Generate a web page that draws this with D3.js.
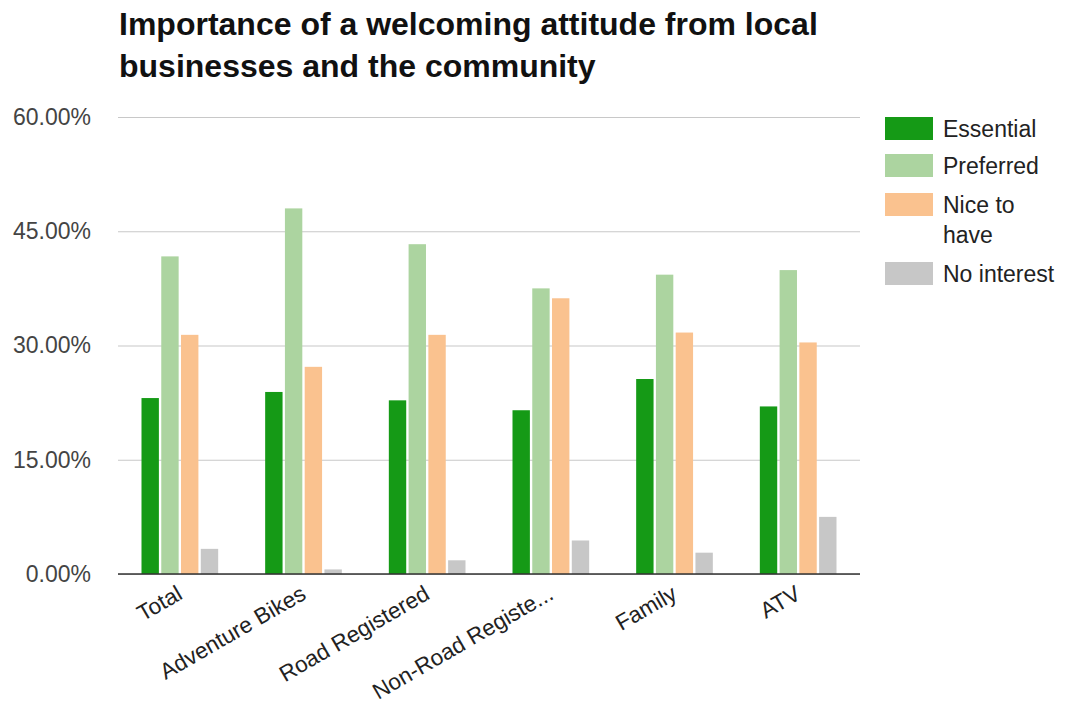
<!DOCTYPE html>
<html>
<head>
<meta charset="utf-8">
<script src="https://cdn.jsdelivr.net/npm/d3@7"></script>
<style>
  html, body { margin: 0; padding: 0; background: #fff; }
  svg { display: block; font-family: "Liberation Sans", Arial, Helvetica, sans-serif; }
</style>
</head>
<body>
<svg id="chart" width="1069" height="708"></svg>
<script>
const categories = ["Total", "Adventure Bikes", "Road Registered", "Non-Road Registe...", "Family", "ATV"];
const seriesNames = ["Essential", "Preferred", "Nice to have", "No interest"];
const essential  = [23.1, 23.9, 22.8, 21.5, 25.6, 22.0];
const preferred  = [41.7, 48.0, 43.3, 37.5, 39.3, 39.9];
const niceToHave = [31.4, 27.2, 31.4, 36.2, 31.7, 30.4];
const noInterest = [3.3, 0.6, 1.8, 4.4, 2.8, 7.5];
const yTicks = [0, 15, 30, 45, 60];
const titleLines = ["Importance of a welcoming attitude from local", "businesses and the community"];
const colors = ["#159a16", "#acd4a0", "#fac28f", "#c7c7c7"];

const seriesValues = [essential, preferred, niceToHave, noInterest];
const data = categories.map((c, i) => ({
  cat: c,
  vals: seriesNames.map((s, j) => ({ key: s, value: seriesValues[j][i], color: colors[j] }))
}));

const svg = d3.select("#chart");
const plotLeft = 118, plotRight = 860, plotTop = 117, plotBottom = 574;

// Title
svg.append("g").selectAll("text").data(titleLines).join("text")
  .attr("x", 119).attr("y", (d, i) => 35 + i * 42)
  .attr("font-size", 32).attr("font-weight", "bold").attr("fill", "#111")
  .text(d => d);

const y = d3.scaleLinear().domain([0, 60]).range([plotBottom, plotTop]);
const x0 = d3.scaleBand().domain(categories).range([plotLeft, plotRight]).paddingInner(0.38).paddingOuter(0.19);
const x1 = d3.scaleBand().domain(seriesNames).range([0, x0.bandwidth()]).paddingInner(0.12);

// Grid
const yAxis = d3.axisLeft(y).tickValues(yTicks).tickSize(-(plotRight - plotLeft)).tickFormat(d => d3.format(".2f")(d) + "%");
const gy = svg.append("g").attr("transform", `translate(${plotLeft},0)`).call(yAxis);
gy.select(".domain").remove();
gy.selectAll(".tick line").attr("stroke", "#c8c8c8").attr("stroke-width", 1.2);
gy.selectAll(".tick text").attr("x", -27).attr("font-size", 23).attr("fill", "#444")
  .attr("font-family", "\"Liberation Sans\", Arial, sans-serif");

// Bars
const groups = svg.append("g").selectAll("g").data(data).join("g")
  .attr("transform", d => `translate(${x0(d.cat)},0)`);
groups.selectAll("rect").data(d => d.vals).join("rect")
  .attr("x", d => x1(d.key))
  .attr("width", x1.bandwidth())
  .attr("y", d => y(d.value))
  .attr("height", d => plotBottom - y(d.value))
  .attr("fill", d => d.color);

// Baseline
svg.append("line").attr("x1", plotLeft).attr("x2", plotRight).attr("y1", plotBottom).attr("y2", plotBottom)
  .attr("stroke", "#333").attr("stroke-width", 1.5);

// X labels
const xAxis = d3.axisBottom(x0).tickSize(0).tickPadding(0);
const gx = svg.append("g").attr("transform", `translate(0,${plotBottom})`).call(xAxis);
gx.select(".domain").remove();
gx.selectAll(".tick text")
  .attr("font-size", 22.5).attr("fill", "#222")
  .attr("font-family", "\"Liberation Sans\", Arial, sans-serif")
  .attr("text-anchor", "end")
  .attr("dy", 0)
  .attr("transform", "translate(4,24) rotate(-30)");

// Legend
const legendItems = [
  { name: ["Essential"], color: colors[0], y: 117 },
  { name: ["Preferred"], color: colors[1], y: 154 },
  { name: ["Nice to", "have"], color: colors[2], y: 193 },
  { name: ["No interest"], color: colors[3], y: 262 }
];
const lg = svg.append("g").selectAll("g").data(legendItems).join("g")
  .attr("transform", d => `translate(885,${d.y})`);
lg.append("rect").attr("width", 48).attr("height", 23).attr("fill", d => d.color);
lg.each(function(d) {
  d3.select(this).selectAll("text").data(d.name).join("text")
    .attr("x", 58).attr("y", (t, i) => 20 + i * 30)
    .attr("font-size", 23).attr("fill", "#222")
    .text(t => t);
});
</script>
</body>
</html>
